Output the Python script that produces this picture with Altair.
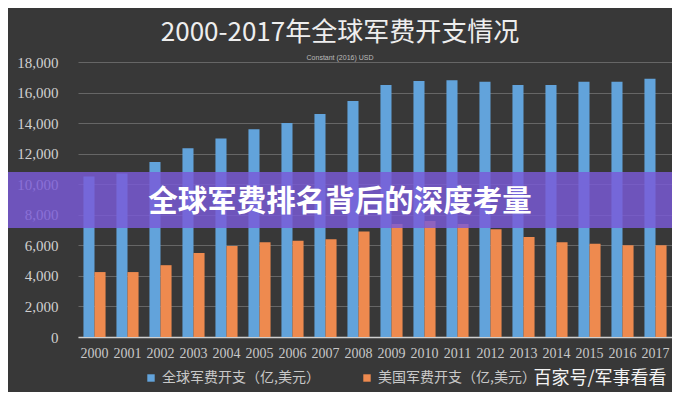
import altair as alt
import pandas as pd

years = ["2000", "2001", "2002", "2003", "2004", "2005", "2006", "2007", "2008",
         "2009", "2010", "2011", "2012", "2013", "2014", "2015", "2016", "2017"]
world = [10500, 10700, 11450, 12350, 13000, 13600, 14000, 14600, 15450,
         16500, 16750, 16800, 16700, 16500, 16500, 16700, 16700, 16900]
usa = [4250, 4250, 4700, 5500, 5950, 6200, 6300, 6400, 6900,
       7400, 7600, 7400, 7050, 6550, 6200, 6100, 6000, 6000]
series_names = ["全球军费开支（亿,美元）", "美国军费开支（亿,美元）"]
series_colors = ["#62a3db", "#ee8a4f"]
y_ticks = [0, 2000, 4000, 6000, 8000, 10000, 12000, 14000, 16000, 18000]

title_text = "2000-2017年全球军费开支情况"
subtitle_text = "Constant (2016) USD"
banner_text = "全球军费排名背后的深度考量"
watermark_text = "百家号/军事看看"

rows = []
for i, yr in enumerate(years):
    rows.append({"year": yr, "series": series_names[0], "value": world[i]})
    rows.append({"year": yr, "series": series_names[1], "value": usa[i]})
df = pd.DataFrame(rows)

bars = alt.Chart(df).mark_bar().encode(
    x=alt.X("year:N", sort=years,
            scale=alt.Scale(paddingInner=0.33, paddingOuter=0.165),
            axis=alt.Axis(title=None, labelAngle=0, ticks=False, domain=True,
                          domainColor="#d0d0d0", domainWidth=1.5,
                          labelFont="Liberation Serif", labelFontSize=14,
                          labelColor="#c8c8c8", labelPadding=9,
                          labelOverlap=False, grid=False)),
    xOffset=alt.XOffset("series:N", sort=series_names,
                        scale=alt.Scale(paddingInner=0)),
    y=alt.Y("value:Q", scale=alt.Scale(domain=[0, 18000]),
            axis=alt.Axis(title=None, values=y_ticks, format=",.0f", grid=True,
                          gridColor="#a0a0a0", gridOpacity=0.45, gridWidth=1,
                          domain=False, ticks=False,
                          labelFont="Liberation Serif", labelFontSize=15,
                          labelColor="#d0d0d0", labelPadding=20)),
    color=alt.Color("series:N",
                    scale=alt.Scale(domain=series_names, range=series_colors),
                    legend=alt.Legend(title=None, orient="none", legendX=66,
                                      legendY=309, direction="horizontal",
                                      columnPadding=40, symbolType="square",
                                      symbolSize=55, labelFont="Noto Sans CJK SC",
                                      labelFontSize=14, labelColor="#c8c8c8")),
)

banner_df = pd.DataFrame({"t": [banner_text]})
banner_rect = alt.Chart(banner_df).mark_rect(
    color="#7a5ad8", opacity=0.82, clip=False
).encode(
    x=alt.value(-80), x2=alt.value(610), y=alt.value(110), y2=alt.value(166)
)
banner_label = alt.Chart(banner_df).mark_text(
    font="Noto Sans CJK SC", fontSize=29.5, fontWeight="bold", color="#ffffff",
    align="center", baseline="middle"
).encode(
    x=alt.value(262), y=alt.value(140), text="t:N"
)

wm_df = pd.DataFrame({"t": [watermark_text]})
watermark = alt.Chart(wm_df).mark_text(
    font="Noto Sans CJK SC", fontSize=18, color="#f2f2f2",
    align="center", baseline="middle"
).encode(
    x=alt.value(522), y=alt.value(317), text="t:N"
)

chart = alt.layer(bars, banner_rect, banner_label, watermark).properties(
    width=594, height=275,
    background="#383838",
    padding={"left": 70, "top": 54, "right": 0, "bottom": 55},
    autosize=alt.AutoSizeParams(type="none"),
    title=alt.TitleParams(
        text=title_text, subtitle=subtitle_text, anchor="middle", dx=-35,
        font="Noto Sans CJK SC", fontSize=26, fontWeight="normal",
        color="#eeeeee", subtitleFont="Liberation Sans", subtitleFontSize=7,
        subtitleColor="#bbbbbb", subtitlePadding=8, offset=-6
    ),
).configure_view(stroke=None)

chart.save("out.html", embed_options={"renderer": "svg", "actions": False})
